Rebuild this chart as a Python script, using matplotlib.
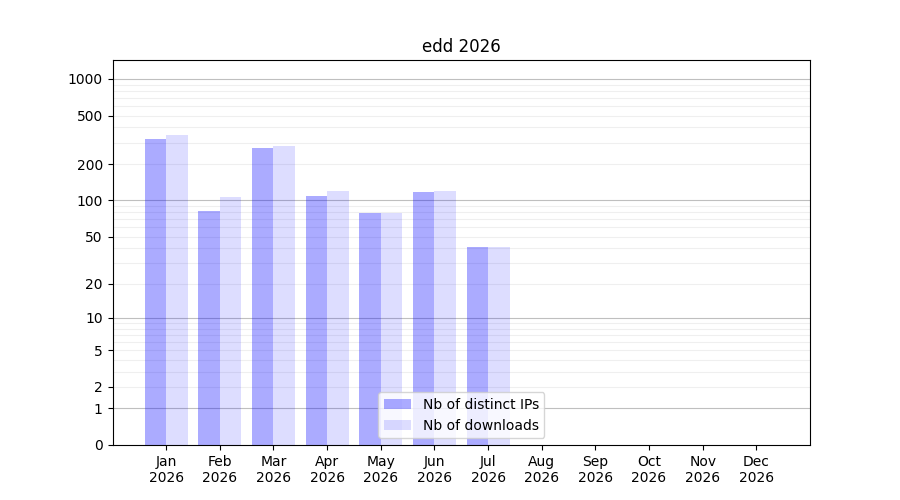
import numpy as np
import matplotlib
matplotlib.use("Agg")
import matplotlib.pyplot as plt
from matplotlib.ticker import FixedLocator, FixedFormatter

months = ["Jan", "Feb", "Mar", "Apr", "May", "Jun",
          "Jul", "Aug", "Sep", "Oct", "Nov", "Dec"]
year = "2026"
distinct_ips = [322, 82, 271, 109, 78, 118, 41, 0, 0, 0, 0, 0]
downloads = [347, 107, 282, 120, 78, 120, 41, 0, 0, 0, 0, 0]
major_ticks = [0, 1, 2, 5, 10, 20, 50, 100, 200, 500, 1000]


def fwd(v):
    return np.log10(np.maximum(v, 0) + 1)


def inv(v):
    return 10 ** v - 1


fig, ax = plt.subplots(figsize=(9, 5), dpi=100)
x = np.arange(1, len(months) + 1)
w = 0.4
ax.bar(x - w / 2, distinct_ips, width=w, color="blue", alpha=0.33,
       label="Nb of distinct IPs")
ax.bar(x + w / 2, downloads, width=w, color="blue", alpha=0.135,
       label="Nb of downloads")

ax.set_yscale("function", functions=(fwd, inv))
ax.set_ylim(0, 1430)
ax.set_xlim(0, 13)

ax.yaxis.set_major_locator(FixedLocator(major_ticks))
ax.yaxis.set_major_formatter(FixedFormatter([str(t) for t in major_ticks]))
minor = [m * d for d in (1, 10, 100) for m in range(2, 10)]
ax.yaxis.set_minor_locator(FixedLocator(minor))
ax.tick_params(axis="y", which="minor", length=0)

for v in (1, 10, 100, 1000):
    ax.axhline(v, color="gray", lw=0.8, alpha=0.5, zorder=0)
for v in minor:
    ax.axhline(v, color="gray", lw=0.8, alpha=0.12, zorder=0)

ax.set_xticks(x)
ax.set_xticklabels([f"{m}\n{year}" for m in months])
ax.set_title("edd 2026")
ax.legend(loc="lower center")

fig.savefig("out.png")
